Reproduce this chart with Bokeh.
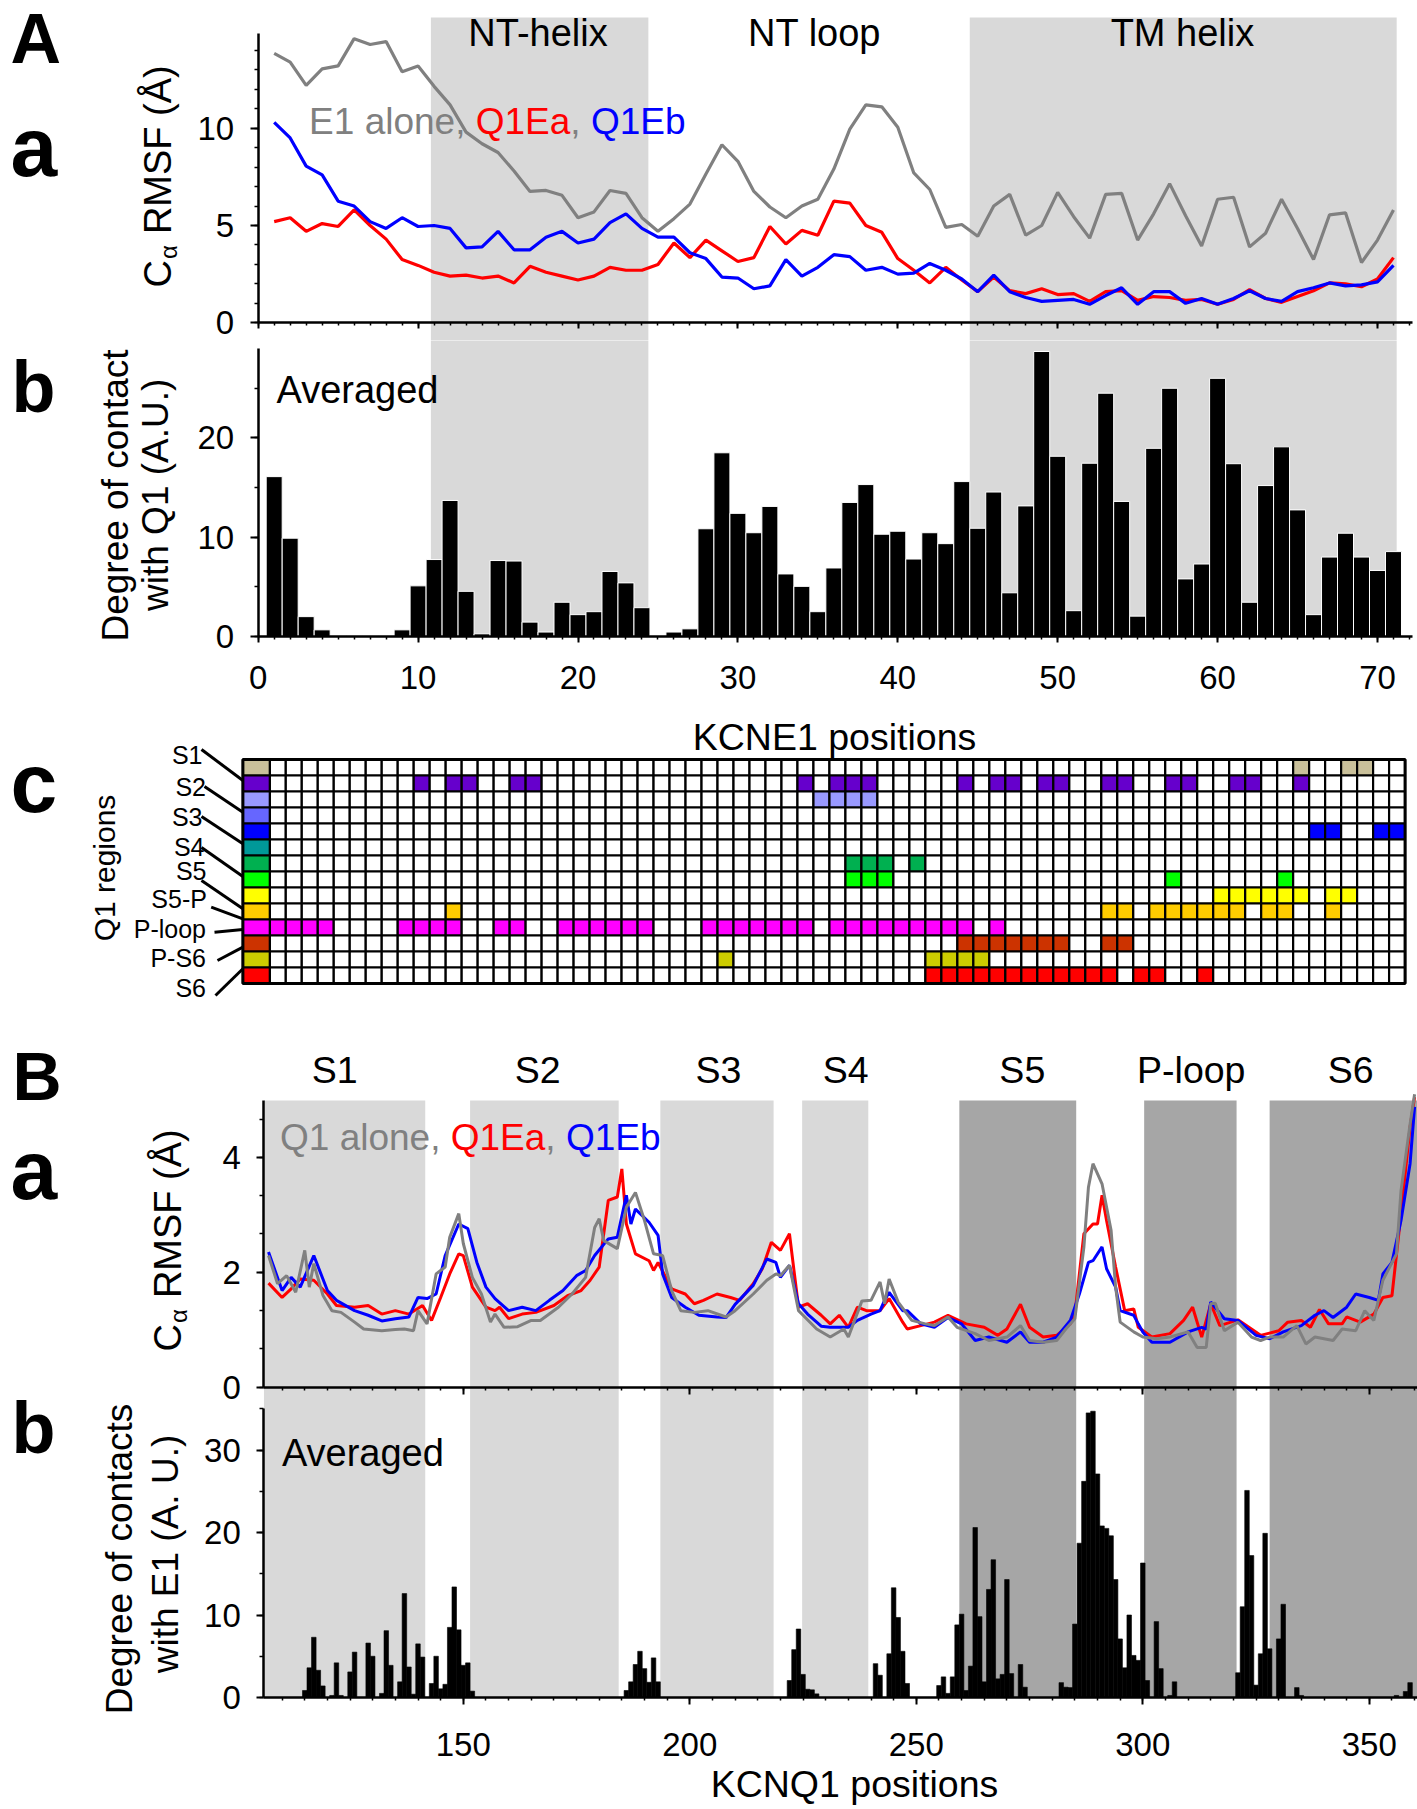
import math
from bokeh.plotting import figure
from bokeh.models import Range1d, LinearAxis, SingleIntervalTicker, BoxAnnotation, Label
from bokeh.layouts import column
from bokeh.embed import file_html
from bokeh.resources import INLINE

FONT = "Liberation Sans"
GRAY, RED, BLUE = "#808080", "#ff0000", "#0000ff"
LIGHT, DARK = "#d9d9d9", "#a6a6a6"

# ---------------- Panel A data (KCNE1) ----------------
kcne1_pos = list(range(1, 72))
e1_alone_rmsf = [13.85, 13.4, 12.2, 13.05, 13.2, 14.6, 14.3, 14.45, 12.9, 13.2,
                 12.15, 11.2, 9.8, 9.2, 8.75, 7.8, 6.75, 6.8, 6.55, 5.4,
                 5.7, 6.8, 6.65, 5.4, 4.7, 5.35, 6.1, 7.65, 9.15, 8.3,
                 6.75, 5.95, 5.4, 6.0, 6.35, 7.9, 9.95, 11.2, 11.1, 10.05,
                 7.7, 6.85, 4.9, 5.05, 4.45, 6.0, 6.6, 4.5, 5.0, 6.7,
                 5.45, 4.35, 6.6, 6.65, 4.25, 5.6, 7.15, 5.5, 3.95, 6.35,
                 6.45, 3.9, 4.6, 6.35, 4.85, 3.25, 5.55, 5.65, 3.1, 4.25, 5.8]
q1ea_rmsf = [5.2, 5.4, 4.7, 5.1, 4.95, 5.8, 5.0, 4.3, 3.25, 2.95,
             2.6, 2.4, 2.45, 2.3, 2.4, 2.05, 2.9, 2.6, 2.4, 2.2,
             2.4, 2.85, 2.7, 2.7, 3.0, 4.1, 3.35, 4.25, 3.7, 3.15,
             3.35, 4.95, 4.05, 4.75, 4.5, 6.25, 6.15, 5.0, 4.65, 3.3,
             2.7, 2.05, 2.85, 2.2, 1.6, 2.35, 1.65, 1.5, 1.75, 1.45,
             1.5, 1.1, 1.6, 1.65, 1.15, 1.35, 1.3, 1.15, 1.2, 0.95,
             1.2, 1.7, 1.25, 1.05, 1.35, 1.65, 2.05, 2.0, 1.85, 2.25, 3.35]
q1eb_rmsf = [10.3, 9.5, 8.05, 7.6, 6.25, 6.0, 5.2, 4.85, 5.4, 4.95,
             5.0, 4.85, 3.85, 3.9, 4.7, 3.75, 3.75, 4.4, 4.7, 4.1,
             4.3, 5.15, 5.6, 4.85, 4.4, 4.4, 3.6, 3.3, 2.35, 2.3,
             1.75, 1.9, 3.25, 2.4, 2.85, 3.5, 3.4, 2.7, 2.85, 2.5,
             2.55, 3.05, 2.7, 2.25, 1.6, 2.45, 1.6, 1.3, 1.1, 1.15,
             1.2, 0.95, 1.4, 1.8, 0.95, 1.6, 1.6, 1.0, 1.25, 0.95,
             1.25, 1.65, 1.25, 1.1, 1.6, 1.8, 2.05, 1.9, 1.95, 2.1, 2.95]
kcne1_contact = [16.1, 9.9, 2.0, 0.67, 0.1, 0.1, 0.1, 0.1, 0.67, 5.1,
                 7.75, 13.7, 4.55, 0.27, 7.65, 7.6, 1.45, 0.45, 3.45, 2.2,
                 2.5, 6.55, 5.4, 2.9, 0.1, 0.45, 0.77, 10.85, 18.5, 12.4,
                 10.45, 13.1, 6.3, 5.05, 2.5, 6.9, 13.5, 15.3, 10.3, 10.6,
                 7.8, 10.45, 9.35, 15.6, 10.9, 14.55, 4.4, 13.15, 28.7, 18.15,
                 2.6, 17.45, 24.5, 13.6, 2.05, 18.95, 25.0, 5.8, 7.3, 26.0,
                 17.4, 3.45, 15.2, 19.1, 12.75, 2.2, 8.0, 10.4, 8.0, 6.65, 8.55]
a_region_names = ["NT-helix", "NT loop", "TM helix"]
a_region_label_x = [17.5, 34.8, 57.8]
a_shaded = [(10.8, 24.4), (44.5, 71.2)]

# ---------------- Panel A c (contact map) ----------------
q1_row_labels = ["S1", "S2", "S3", "S4", "S5", "S5-P", "P-loop", "P-S6", "S6"]
q1_row_colors = ["#c9c09a", "#6600cc", "#9999ff", "#6666ff", "#0000ff", "#009999", "#00b050",
                 "#00ff00", "#ffff00", "#ffcc00", "#ff00ff", "#cc3300", "#cccc00", "#ff0000"]
q1_row_contacts = [
    [65, 68, 69],
    [10, 12, 13, 16, 17, 34, 36, 37, 38, 44, 46, 47, 49, 50, 53, 54, 57, 58, 61, 62, 65],
    [35, 36, 37, 38],
    [],
    [66, 67, 70, 71],
    [],
    [37, 38, 39, 41],
    [37, 38, 39, 57, 64],
    [60, 61, 62, 63, 64, 65, 67, 68],
    [12, 53, 54, 56, 57, 58, 59, 60, 61, 63, 64, 67],
    [1, 2, 3, 4, 9, 10, 11, 12, 15, 16, 19, 20, 21, 22, 23, 24, 28, 29, 30, 31, 32, 33, 34,
     36, 37, 38, 39, 40, 41, 42, 43, 44, 46],
    [44, 45, 46, 47, 48, 49, 50, 53, 54],
    [29, 42, 43, 44, 45],
    [42, 43, 44, 45, 46, 47, 48, 49, 50, 51, 52, 53, 55, 56, 59],
]

# ---------------- Panel B data (KCNQ1) ----------------
q1_alone_x = [107, 109, 111, 113, 115, 116, 117, 119, 121, 123, 126, 128, 132, 135, 137, 139, 140, 142, 144, 146,
              147, 149, 150, 152, 154, 156, 157, 159, 162, 165, 167, 171, 174, 177, 179, 180, 181, 184, 186, 188,
              190, 192, 194, 196, 198, 201, 204, 208, 210, 214, 217, 219, 220, 222, 224, 225, 228, 231, 234, 235,
              238, 240, 242, 243, 244, 246, 249, 252, 254, 257, 259, 263, 266, 270, 273, 275, 278, 281, 283, 285,
              287, 288, 289, 291, 293, 294, 295, 298, 300, 303, 306, 310, 312, 314, 315, 316, 318, 321, 324, 326,
              328, 331, 334, 336, 338, 342, 344, 347, 349, 351, 353, 356, 357, 359, 360]
q1_alone_rmsf = [2.29, 1.8, 1.94, 1.65, 2.38, 1.74, 2.15, 1.6, 1.33, 1.3, 1.13, 1.01, 0.98, 1.0, 1.01, 0.98, 1.33, 1.1, 1.97, 2.09,
                 2.61, 3.02, 2.5, 1.91, 1.62, 1.13, 1.27, 1.04, 1.05, 1.16, 1.16, 1.39, 1.62, 1.91, 2.78, 2.93, 2.55, 2.41, 3.13, 3.39,
                 2.9, 2.32, 2.29, 1.68, 1.33, 1.3, 1.33, 1.22, 1.33, 1.62, 1.86, 1.97, 1.94, 2.12, 1.33, 1.25, 1.01, 0.87, 1.01, 0.87,
                 1.5, 1.51, 1.83, 1.45, 1.88, 1.48, 1.16, 1.1, 1.07, 1.22, 1.04, 0.93, 0.81, 0.87, 1.07, 0.81, 0.78, 0.81, 1.01, 1.19,
                 2.44, 3.48, 3.89, 3.54, 2.73, 1.74, 1.13, 0.96, 0.87, 0.84, 0.87, 0.96, 0.69, 0.69, 1.45, 1.46, 0.98, 1.13, 0.87, 0.81,
                 0.87, 0.87, 1.07, 0.75, 0.87, 0.81, 1.01, 0.98, 1.33, 1.16, 1.86, 2.32, 3.42, 4.58, 5.1]
q1ea_b_x = [107, 110, 112, 114, 117, 120, 122, 126, 129, 132, 135, 138, 141, 143, 145, 147, 149, 150, 152, 155,
            157, 158, 160, 163, 166, 170, 173, 176, 178, 180, 182, 184, 185, 186, 188, 191, 192, 193, 196, 199,
            201, 203, 206, 209, 211, 214, 216, 218, 220, 222, 224, 226, 229, 231, 233, 235, 237, 239, 242, 244,
            247, 248, 251, 254, 257, 261, 265, 268, 270, 273, 275, 278, 281, 284, 285, 287, 289, 290, 291, 292,
            294, 296, 298, 299, 302, 306, 309, 311, 313, 315, 317, 321, 326, 330, 332, 335, 337, 339, 341, 344,
            345, 348, 351, 353, 355, 357, 359, 360]
q1ea_b_rmsf = [1.81, 1.56, 1.71, 1.88, 1.86, 1.62, 1.42, 1.39, 1.42, 1.27, 1.33, 1.27, 1.42, 1.16, 1.56, 1.97, 2.32, 2.29, 1.74, 1.39,
               1.33, 1.39, 1.19, 1.27, 1.3, 1.42, 1.59, 1.68, 1.86, 2.09, 3.25, 3.31, 3.8, 2.84, 2.32, 2.2, 2.03, 2.17, 1.71, 1.62,
               1.45, 1.51, 1.62, 1.56, 1.51, 1.8, 2.06, 2.52, 2.38, 2.67, 1.39, 1.45, 1.25, 1.1, 1.25, 1.04, 1.39, 1.33, 1.33, 1.54,
               1.13, 1.01, 1.07, 1.13, 1.25, 1.1, 1.04, 0.9, 1.01, 1.44, 1.04, 0.87, 0.9, 1.1, 1.27, 2.67, 2.84, 2.84, 3.34, 2.9,
               2.09, 1.33, 1.36, 1.04, 0.87, 0.93, 1.16, 1.39, 0.87, 1.45, 1.07, 1.17, 0.9, 0.98, 1.13, 1.16, 1.04, 1.35, 1.1, 1.1,
               1.22, 1.13, 1.27, 1.56, 1.59, 3.02, 4.53, 5.05]
q1eb_b_x = [107, 110, 112, 114, 117, 120, 122, 126, 129, 132, 135, 138, 140, 142, 144, 146, 149, 151, 153, 155,
            157, 160, 163, 166, 169, 172, 175, 177, 179, 182, 184, 186, 187, 188, 191, 193, 194, 196, 199, 202,
            206, 208, 210, 214, 217, 219, 220, 222, 224, 226, 229, 231, 235, 237, 240, 242, 243, 244, 247, 248,
            251, 254, 257, 260, 263, 266, 270, 273, 275, 278, 281, 284, 286, 288, 289, 291, 292, 294, 295, 298,
            299, 300, 302, 306, 310, 313, 314, 315, 318, 321, 325, 328, 331, 335, 338, 340, 342, 345, 347, 350,
            352, 353, 355, 357, 359, 360]
q1eb_b_rmsf = [2.35, 1.68, 1.91, 1.74, 2.29, 1.68, 1.51, 1.33, 1.25, 1.15, 1.19, 1.22, 1.56, 1.54, 1.62, 2.29, 2.84, 2.76, 2.17, 1.74,
               1.54, 1.33, 1.39, 1.33, 1.51, 1.68, 1.94, 2.03, 2.29, 2.58, 2.61, 3.34, 2.84, 3.1, 2.87, 2.64, 1.97, 1.56, 1.39, 1.25,
               1.22, 1.21, 1.44, 1.77, 2.23, 2.17, 1.91, 2.12, 1.45, 1.27, 1.06, 1.04, 1.04, 1.16, 1.27, 1.33, 1.51, 1.65, 1.33, 1.33,
               1.1, 1.04, 1.21, 1.1, 0.81, 0.87, 0.78, 0.96, 0.78, 0.78, 0.87, 1.16, 1.62, 2.17, 2.2, 2.44, 2.06, 1.74, 1.33, 1.25,
               1.1, 0.96, 0.78, 0.78, 0.96, 1.04, 1.01, 1.48, 1.19, 1.16, 0.9, 0.84, 0.96, 1.07, 1.25, 1.33, 1.21, 1.39, 1.62, 1.56,
               1.51, 1.97, 2.17, 2.9, 3.89, 4.88]
kcnq1_contact_pos = [115, 116, 117, 118, 119, 121, 122, 123, 125, 126, 129, 130, 132, 133, 134, 136, 137, 138, 139, 140,
                     141, 143, 144, 145, 146, 147, 148, 149, 150, 151, 152,
                     186, 187, 188, 189, 190, 191, 192, 193,
                     222, 223, 224, 225, 226, 227, 228,
                     241, 242, 244, 245, 246, 247, 248,
                     255, 256, 257, 258, 259, 260, 261, 262, 263, 264, 265, 266, 267, 268, 269, 270, 271, 273, 274,
                     282, 283, 284, 285, 286, 287, 288, 289, 290, 291, 292, 293, 294, 295, 296, 297, 298, 299, 300, 301,
                     303, 304, 306, 307,
                     321, 322, 323, 324, 325, 326, 327, 328, 330, 331, 334, 335, 356, 358, 359]
kcnq1_contact = [0.85, 3.6, 7.3, 3.3, 1.4, 0.25, 4.2, 0.25, 3.1, 5.5, 6.6, 5.0, 0.5, 8.1, 3.9, 1.9, 12.6, 3.7, 0.4, 6.5,
                 4.9, 1.7, 5.0, 1.05, 1.6, 8.5, 13.4, 8.2, 3.9, 4.2, 0.77,
                 0.85, 1.9, 4.0, 5.6, 3.5, 1.85, 4.8, 1.9,
                 2.06, 5.8, 8.3, 2.8, 1.0, 0.93, 0.44,
                 4.1, 2.7, 5.3, 13.3, 9.7, 5.6, 1.7,
                 1.45, 2.5, 0.5, 2.5, 8.8, 10.1, 0.85, 3.8, 20.6, 9.8, 1.9, 13.1, 16.7, 2.26, 2.8, 14.3, 2.9, 4.0, 1.25,
                 1.8, 1.25, 1.2, 8.9, 18.7, 26.2, 34.5, 34.7, 27.1, 20.8, 20.5, 19.6, 14.3, 7.1, 3.6, 10.0, 5.1, 4.5, 16.3, 2.06,
                 9.2, 3.5, 0.25, 1.9,
                 3.0, 11.0, 25.1, 17.2, 1.5, 5.3, 19.9, 5.9, 7.1, 11.3, 1.2, 0.25, 0.25, 0.73, 1.8]
b_region_names = ["S1", "S2", "S3", "S4", "S5", "P-loop", "S6"]
b_region_label_x = [121.6, 166.4, 206.3, 234.4, 273.4, 310.7, 345.9]
b_shaded = [(106.0, 141.6, LIGHT), (151.5, 184.3, LIGHT), (193.5, 218.5, LIGHT), (224.8, 239.4, LIGHT),
            (259.5, 285.3, DARK), (300.3, 320.7, DARK), (328.0, 362.0, DARK)]

# ---------------- helpers ----------------
W = 1417


def make_fig(h, xr, yr):
    p = figure(width=W, height=h, x_range=Range1d(*xr), y_range=Range1d(*yr),
               x_axis_type=None, y_axis_type=None, toolbar_location=None,
               output_backend="svg", min_border=0, title=None)
    p.outline_line_color = None
    p.background_fill_color = "white"
    p.border_fill_color = "white"
    return p


def add_axis(p, side, loc, bounds, interval, minor, labels=True, tick_out=7, minor_out=4, standoff=15,
             y_range_name=None):
    kw = {}
    if y_range_name is not None:
        kw["y_range_name"] = y_range_name
    ax = LinearAxis(fixed_location=loc, bounds=bounds,
                    ticker=SingleIntervalTicker(interval=interval, num_minor_ticks=minor), **kw)
    ax.axis_line_width = 2.5
    ax.axis_line_color = "black"
    ax.major_tick_line_width = 2
    ax.minor_tick_line_width = 1.5
    ax.major_tick_in = 0
    ax.minor_tick_in = 0
    ax.major_tick_out = tick_out
    ax.minor_tick_out = minor_out
    ax.major_label_text_font = FONT
    ax.major_label_text_font_size = "33px"
    ax.major_label_text_color = "black" if labels else None
    ax.major_label_standoff = standoff
    p.add_layout(ax, side)
    return ax


def txt(p, x, y, s, size, color="black", align="left", angle=0.0, bold=False):
    # y is the visual middle of the text line
    p.add_layout(Label(x=x, y=y, text=s, text_font=FONT, text_font_size=f"{size}px",
                       text_color=color, text_align=align, text_baseline="middle",
                       angle=angle, text_font_style="bold" if bold else "normal"))


def band(p, left, right, top, bottom, color):
    p.add_layout(BoxAnnotation(left=left, right=right, top=top, bottom=bottom, fill_color=color,
                               fill_alpha=1.0, line_color=None, level="underlay"))


UP = math.pi / 2


def rmsf_title(p, X, Y, mid_x, start_y, size=38):
    # "C" with subscript alpha, then "RMSF (Å)", rotated 90 degrees (reads upward)
    txt(p, X(mid_x), Y(start_y), "C", size, angle=UP)
    a_y = start_y - 0.722 * size - 1
    sub = int(size * 0.64)
    txt(p, X(mid_x + 11), Y(a_y), "α", sub, angle=UP)
    r_y = a_y - 0.6 * sub - 0.278 * size
    txt(p, X(mid_x), Y(r_y), "RMSF (Å)", size, angle=UP)


AW = {' ': 278, ',': 278, '1': 556, 'E': 667, 'Q': 778, 'a': 556, 'b': 556, 'e': 556, 'l': 222,
      'n': 556, 'o': 556}


def multicolor(p, X, Y, x0, y0, parts, size=37):
    x = x0
    for s, c in parts:
        txt(p, X(x), Y(y0), s, size, color=c)
        x += sum(AW[ch] for ch in s) * size / 1000.0


# coordinate helpers (reference page pixels -> data units)
XA = lambda rx: (rx - 257.7) / 15.99
YAa = lambda ry: (322.3 - ry) / 19.46
YAb = lambda ry: (636.0 - ry) / 9.93
XC = lambda rx: (rx - 261.3) / 15.99
YC = lambda ry: (ry - 751.0) / 16.0
XB = lambda rx: (rx + 216.7) / 4.53
YBa = lambda ry: (1386.5 - ry) / 57.4
YBb = lambda ry: (1697.0 - ry) / 8.25

# ================= Panel A a =================
pAa = make_fig(340, (XA(0), XA(W)), (YAa(340), YAa(0)))
for l, r in a_shaded:
    band(pAa, l, r, YAa(17), YAa(345), LIGHT)
pAa.line(kcne1_pos, e1_alone_rmsf, line_color=GRAY, line_width=3.2)
pAa.line(kcne1_pos, q1ea_rmsf, line_color=RED, line_width=3.2)
pAa.line(kcne1_pos, q1eb_rmsf, line_color=BLUE, line_width=3.2)
add_axis(pAa, "left", 0, (0, 14.85), 5, 5, tick_out=8, minor_out=4, standoff=16)
add_axis(pAa, "below", 0, (0, 72.2), 10, 10, labels=False, tick_out=6, minor_out=3)
for name, xc in zip(a_region_names, a_region_label_x):
    txt(pAa, xc, YAa(32.2), name, 38, align="center")
multicolor(pAa, XA, YAa, 308.6, 120.7,
           [("E1 alone, ", GRAY), ("Q1Ea", RED), (", ", GRAY), ("Q1Eb", BLUE)])
txt(pAa, XA(10), YAa(38), "A", 70, bold=True)
txt(pAa, XA(10), YAa(146), "a", 84, bold=True)
rmsf_title(pAa, XA, YAa, 157, 287)

# ================= Panel A b =================
pAb = make_fig(360, (XA(0), XA(W)), (YAb(700), YAb(340)))
for l, r in a_shaded:
    band(pAb, l, r, YAb(335), 0, LIGHT)
pAb.vbar(x=kcne1_pos, top=kcne1_contact, width=1.0, bottom=0,
         fill_color="black", line_color="white", line_width=1)
add_axis(pAb, "left", 0, (0, 28.96), 10, 2, tick_out=8, minor_out=4, standoff=16)
add_axis(pAb, "below", 0, (0, 72.2), 10, 10, labels=True, tick_out=6, minor_out=3, standoff=23)
txt(pAb, XA(276), YAb(389.7), "Averaged", 38)
txt(pAb, XA(11), YAb(386), "b", 72, bold=True)
txt(pAb, XA(115), YAb(495), "Degree of contact", 37, align="center", angle=UP)
txt(pAb, XA(155), YAb(494.3), "with Q1 (A.U.)", 37, align="center", angle=UP)

# ================= Panel A c (contact map) =================
pC = make_fig(305, (XC(0), XC(W)), (YC(1005), YC(700)))
cx, cy, cc = [], [], []
for r, (color, cols) in enumerate(zip(q1_row_colors, q1_row_contacts), start=1):
    for c in kcne1_pos:
        cx.append(c)
        cy.append(r)
        cc.append(color if c in cols else "white")
pC.rect(x=cx, y=cy, width=1, height=1, fill_color=cc, line_color="black", line_width=2.2)
key_left, key_right = XC(242.4), 0.5
rows = list(range(1, len(q1_row_colors) + 1))
pC.rect(x=[(key_left + key_right) / 2] * len(rows), y=rows, width=key_right - key_left, height=1,
        fill_color=q1_row_colors, line_color="black", line_width=2.2)
pC.rect(x=[(key_left + 71.5) / 2], y=[(len(rows) + 1) / 2], width=71.5 - key_left,
        height=len(rows), fill_color=None, line_color="black", line_width=3)
label_right = [202, 205.5, 202, 204, 206, 206.4, 205.5, 205.5, 205.5]
label_mid = [754, 786, 816, 846, 870, 898, 928, 957, 987]
for s, xr, ym in zip(q1_row_labels, label_right, label_mid):
    txt(pC, XC(xr), YC(ym), s, 25, align="right")
lead_start = [(201, 749), (204, 786), (201, 816), (201, 847), (201, 880), (210.7, 906.7), (214, 931.7),
              (217, 960), (215, 995)]
lead_end = [(242.4, 780), (242.4, 811.7), (242.4, 843.3), (242.4, 876), (242.4, 908.3), (242.4, 918.3),
            (242.4, 929), (242.4, 946.7), (242.4, 968.3)]
pC.segment(x0=[XC(a) for a, b in lead_start], y0=[YC(b) for a, b in lead_start],
           x1=[XC(a) for a, b in lead_end], y1=[YC(b) for a, b in lead_end],
           line_color="black", line_width=3)
txt(pC, XC(834), YC(736), "KCNE1 positions", 37.5, align="center")
txt(pC, XC(10), YC(782), "c", 84, bold=True)
txt(pC, XC(104), YC(867.5), "Q1 regions", 30, align="center", angle=UP)

# ================= Panel B (a: RMSF, b: contacts) in one frame =================
pB = make_fig(804, (XB(0), XB(W)), (YBa(1809), YBa(1005)))
pB.extra_y_ranges = {"contact": Range1d(YBb(1809), YBb(1005))}
for l, r, col in b_shaded:
    band(pB, l, r, YBa(1100), YBa(1697), col)
pB.line(q1ea_b_x, q1ea_b_rmsf, line_color=RED, line_width=3)
pB.line(q1eb_b_x, q1eb_b_rmsf, line_color=BLUE, line_width=3)
pB.line(q1_alone_x, q1_alone_rmsf, line_color=GRAY, line_width=3)
pB.vbar(x=kcnq1_contact_pos, top=kcnq1_contact, width=1.0, bottom=0,
        fill_color="black", line_color="black", line_width=0.6, y_range_name="contact")
# a: RMSF axes
add_axis(pB, "left", 105.96, (0, 5.0), 2, 3, tick_out=7, minor_out=4, standoff=16)
add_axis(pB, "below", 0, (105.96, 362), 50, 10, labels=False, tick_out=7, minor_out=3)
# b: contact axes
add_axis(pB, "left", 105.96, (0, 35), 10, 2, tick_out=7, minor_out=4, standoff=16, y_range_name="contact")
add_axis(pB, "below", YBa(1697), (105.96, 362), 50, 10, labels=True, tick_out=7, minor_out=3, standoff=28)
for name, xc in zip(b_region_names, b_region_label_x):
    txt(pB, xc, YBa(1069), name, 37.5, align="center")
multicolor(pB, XB, YBa, 279.5, 1136.7,
           [("Q1 alone, ", GRAY), ("Q1Ea", RED), (", ", GRAY), ("Q1Eb", BLUE)])
txt(pB, XB(12), YBa(1075), "B", 68, bold=True)
txt(pB, XB(10), YBa(1169), "a", 84, bold=True)
rmsf_title(pB, XB, YBa, 167, 1351)
txt(pB, XB(281.4), YBa(1452.9), "Averaged", 38)
txt(pB, XB(11), YBa(1427), "b", 72, bold=True)
txt(pB, XB(119.4), YBa(1558.5), "Degree of contacts", 37, align="center", angle=UP)
txt(pB, XB(165), YBa(1553.5), "with E1 (A. U.)", 37, align="center", angle=UP)
txt(pB, XB(854), YBa(1783.5), "KCNQ1 positions", 37.5, align="center")

layout = column(pAa, pAb, pC, pB, spacing=0)
open("out.html", "w").write(file_html(layout, INLINE))
